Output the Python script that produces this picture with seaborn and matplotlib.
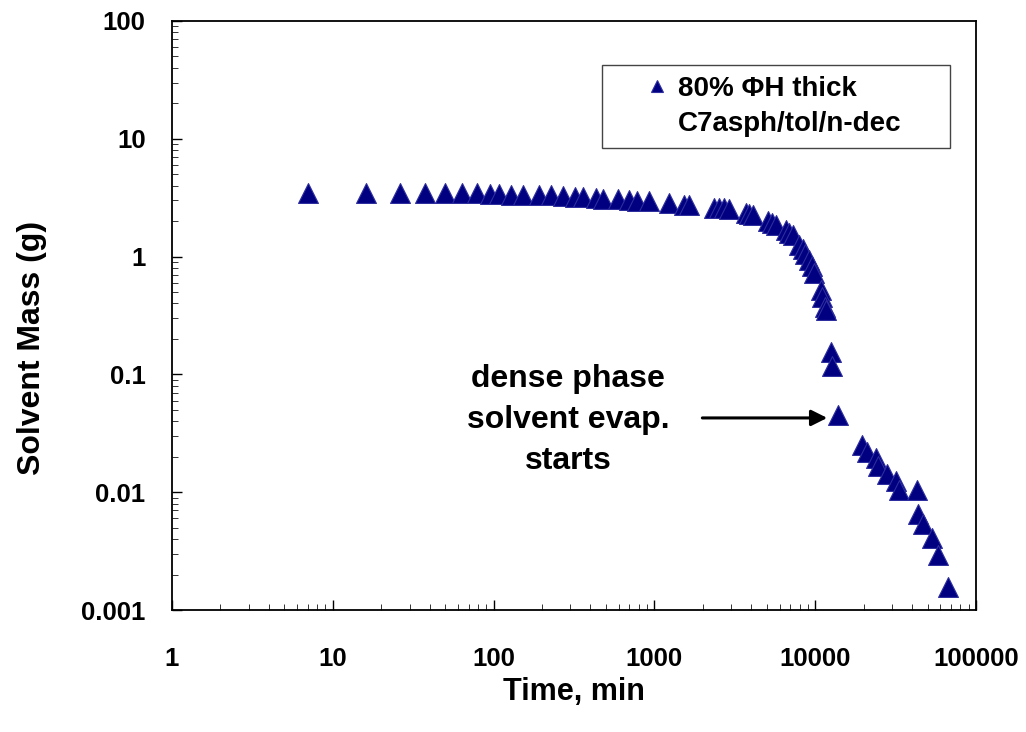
import numpy as np
import pandas as pd
import matplotlib
matplotlib.use("Agg")
import matplotlib.pyplot as plt
from matplotlib.lines import Line2D
from matplotlib.ticker import LogLocator, FixedLocator, FixedFormatter, NullFormatter
import seaborn as sns

# ---------------- data ----------------
time_min = [6.97, 16.0, 26, 37.7, 49.9, 63.3, 79.2, 94.4, 108, 128, 153, 191, 226,
            269, 320, 359, 434, 478, 592, 692, 781, 931, 1228, 1536, 1649,
            2360, 2535, 2723, 2895,
            3710, 3890, 4120,
            5060, 5380, 5700,
            6580, 6900, 7230,
            7960, 8340, 8670,
            9190, 9610, 9860,
            10850, 11100, 11480, 11600,
            12520, 12800,
            13960,
            19680, 21130, 23830, 24720, 28130, 31700, 33270,
            42820, 43660, 47080, 53560, 58300, 67300]
solvent_mass = [3.47, 3.47, 3.47, 3.47, 3.46, 3.45, 3.44, 3.43, 3.37, 3.35, 3.35, 3.34, 3.32,
                3.24, 3.23, 3.20, 3.12, 3.10, 3.06, 3.00, 2.98, 2.94, 2.85, 2.76, 2.74,
                2.59, 2.58, 2.57, 2.56,
                2.33, 2.29, 2.24,
                2.02, 1.93, 1.87,
                1.69, 1.60, 1.53,
                1.26, 1.16, 1.05,
                0.94, 0.83, 0.73,
                0.52, 0.45, 0.37, 0.35,
                0.154, 0.117,
                0.0455,
                0.0253, 0.0218, 0.0195, 0.0168, 0.0144, 0.0124, 0.01036,
                0.01036, 0.00653, 0.00541, 0.00408, 0.00295, 0.00158]

x_ticks = [1, 10, 100, 1000, 10000, 100000]
x_tick_labels = ["1", "10", "100", "1000", "10000", "100000"]
y_ticks = [0.001, 0.01, 0.1, 1, 10, 100]
y_tick_labels = ["0.001", "0.01", "0.1", "1", "10", "100"]

legend_lines = ["80% \u03a6H thick", "C7asph/tol/n-dec"]
annotation_text = "dense phase\nsolvent evap.\nstarts"
annotation_text_pos = (292, 0.041)
arrow_tail = (1987, 0.0427)
arrow_tip = (11880, 0.0427)

x_label = "Time, min"
y_label = "Solvent Mass (g)"

# ---------------- style ----------------
sns.set_theme(style="white")
plt.rcParams["font.family"] = ["Liberation Sans", "DejaVu Sans"]
plt.rcParams["font.weight"] = "bold"
plt.rcParams["axes.labelweight"] = "bold"
plt.rcParams["text.color"] = "black"
plt.rcParams["axes.labelcolor"] = "black"

FILL = "#000080"
EDGE = "#2E2E9E"

fig = plt.figure(figsize=(10.26, 7.32), dpi=100)
W, H = 1026, 732
ax = fig.add_axes([172 / W, 1 - 610 / H, 804 / W, 589 / H])

df = pd.DataFrame({"t": time_min, "m": solvent_mass})
sns.scatterplot(data=df, x="t", y="m", marker="^", s=205, color=FILL,
                edgecolor=EDGE, linewidth=0.8, ax=ax, legend=False, zorder=3)

ax.set_xscale("log")
ax.set_yscale("log")
ax.set_xlim(1, 100000)
ax.set_ylim(0.001, 100)

ax.xaxis.set_major_locator(FixedLocator(x_ticks))
ax.xaxis.set_major_formatter(FixedFormatter(x_tick_labels))
ax.yaxis.set_major_locator(FixedLocator(y_ticks))
ax.yaxis.set_major_formatter(FixedFormatter(y_tick_labels))
ax.xaxis.set_minor_locator(LogLocator(base=10, subs=np.arange(2, 10), numticks=20))
ax.yaxis.set_minor_locator(LogLocator(base=10, subs=np.arange(2, 10), numticks=20))
ax.xaxis.set_minor_formatter(NullFormatter())
ax.yaxis.set_minor_formatter(NullFormatter())

ax.tick_params(axis="both", which="major", direction="in", length=7, width=1.0,
               color="black", labelsize=18.5, labelcolor="black",
               bottom=True, left=True, top=False, right=False)
ax.tick_params(axis="both", which="minor", direction="in", length=4.2, width=0.7,
               color="#333333", bottom=True, left=True, top=False, right=False)
ax.tick_params(axis="y", which="major", pad=19)
ax.tick_params(axis="x", which="major", pad=27)
for lab in ax.get_xticklabels() + ax.get_yticklabels():
    lab.set_fontweight("bold")

for sp in ax.spines.values():
    sp.set_visible(True)
    sp.set_color("black")
    sp.set_linewidth(1.3)
ax.grid(False)

ax.set_xlabel(x_label, fontsize=22, fontweight="bold", color="black")
ax.set_ylabel(y_label, fontsize=23, fontweight="bold", color="black")
ax.xaxis.set_label_coords(0.5, -0.113)
ax.yaxis.set_label_coords(-0.156, 0.445)

# annotation
ax.text(annotation_text_pos[0], annotation_text_pos[1], annotation_text,
        fontsize=23, fontweight="bold", ha="center", va="center",
        linespacing=1.48, color="black")
ax.annotate("", xy=arrow_tip, xytext=arrow_tail,
            arrowprops=dict(arrowstyle="-|>", lw=2.2, color="black",
                            mutation_scale=24, shrinkA=0, shrinkB=0))

# legend
h1 = Line2D([0], [0], marker="^", linestyle="none", markersize=9,
            markerfacecolor=FILL, markeredgecolor=EDGE, markeredgewidth=0.8)
h2 = Line2D([0], [0], marker=None, linestyle="none")
leg = ax.legend([h1, h2], legend_lines, loc="upper left",
                bbox_to_anchor=(602 / W, 1 - 145 / H, 348 / W, 80 / H),
                bbox_transform=fig.transFigure, mode="expand", borderaxespad=0,
                prop={"size": 20, "weight": "bold"}, frameon=True, fancybox=False,
                shadow=False, handlelength=3.2, handletextpad=-0.85,
                borderpad=0.38, labelspacing=0.35, numpoints=1)
for txt in leg.get_texts():
    txt.set_color("black")
frame = leg.get_frame()
frame.set_edgecolor("#444444")
frame.set_linewidth(1.0)
frame.set_facecolor("white")
frame.set_alpha(1)

fig.savefig("out.png", dpi=100, facecolor="white")
